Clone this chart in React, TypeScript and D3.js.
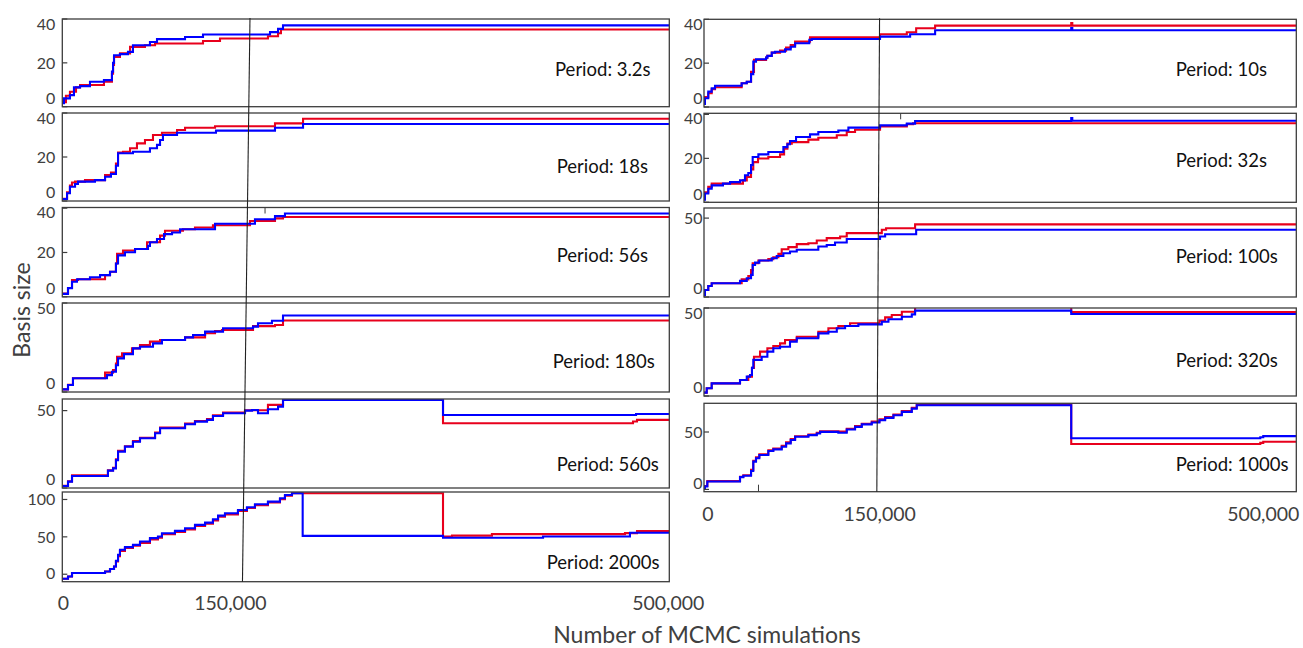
import React from "react";
import * as d3 from "d3";

type Pt = [number, number];

// x values are in thousands of MCMC simulations
const xTicks = [0, 150, 500];

// ---- Left column ----
const blue_3_2s: Pt[] = [[0,1.6],[1.4,3.8],[6.3,5.3],[9.6,8.8],[14.6,9.4],[22.8,11.4],[34.3,12.1],[40.9,16],[41.8,20],[42.6,23.5],[47.5,24],[54.1,25],[58.2,28],[72.2,29.5],[78,30.8],[101.1,31.8],[115.9,32.9],[171.1,34],[177.7,35.5],[181.8,37.1],[500,37.1]];
const red_3_2s: Pt[] = [[0,2],[3,5],[6.3,6.8],[11.3,8.8],[14.6,9.9],[34.3,11.4],[40.9,15],[41.8,19],[42.6,22.7],[47.5,24.3],[55.8,27.3],[68.1,28],[76.4,28.8],[115.9,30],[129.9,31.1],[169.4,32.1],[177.7,33.5],[180.1,35.2],[500,35.2]];

const blue_18s: Pt[] = [[0,0.9],[3.9,3.5],[6.3,6.5],[10.5,7.7],[12.9,8.8],[26.9,9.5],[35.2,11],[40.1,12.3],[44.2,16],[45.9,21.7],[58.2,22.4],[72.2,24],[78,25.5],[80.5,27.7],[82.9,30],[94.5,31],[126.6,32],[175.2,33.3],[198.3,35],[500,35]];
const red_18s: Pt[] = [[0,1],[3.9,4],[6.3,7],[8,8.4],[10.5,8.8],[18.7,9.5],[35.2,11.8],[40.1,12.9],[44.2,17],[45.9,22],[50,22.4],[55.8,24],[61.5,26.2],[68.1,27.7],[74.7,30],[82.1,31],[94.5,32.3],[101.1,33.3],[125.8,34],[175.2,35.3],[198.3,37.4],[500,37.4]];

const blue_56s: Pt[] = [[0,1.3],[4.7,3.9],[8,6.8],[12.1,7.9],[22.8,8.8],[31.1,9.8],[39.3,11.3],[44.2,15],[45.9,18.7],[51.6,20.1],[59.9,21.6],[70.6,23],[72.2,24.6],[78,26.1],[83.8,28.3],[90.4,29],[97,30.5],[125.8,33],[158.7,35],[175.2,36.4],[183.4,37.6],[500,37.6]];
const red_56s: Pt[] = [[0,1.5],[4.7,4],[8,7.6],[12.9,7.9],[35.2,9.8],[39.3,11.3],[44.2,15],[45.1,19.4],[50,20.9],[59.9,21.6],[69.8,24.6],[80.5,27.6],[84.6,29.8],[99.4,30.5],[109.3,31.3],[124.1,32.3],[154.6,34.2],[175.2,35.4],[181.8,36],[500,36]];

const blue_180s: Pt[] = [[0,1.5],[4.7,3.9],[8.8,7.7],[36.8,9.5],[40.9,11.4],[44.2,15],[45.9,18.9],[50.8,21.3],[58.2,24.5],[64,25.4],[74.7,27.3],[82.1,29.2],[101.1,30.7],[107.7,32],[117.6,33.9],[132.4,35.8],[157.1,36.7],[161.2,38.6],[172.7,40],[181.8,43],[500,43]];
const red_180s: Pt[] = [[0,1.5],[4.7,4],[8.8,7.7],[35.2,10.9],[41.8,12.4],[44.2,16],[45.1,19.8],[49.2,21.7],[57.4,24.5],[64,26.4],[72.2,28.3],[80.5,29.2],[101.1,30.7],[117.6,33],[125.8,34.3],[131.5,34.8],[157.1,37],[175.2,37.6],[181.8,40.2],[500,40.2]];

const blue_560s: Pt[] = [[0,1.3],[4.7,4.1],[8,7.8],[37.6,11.2],[41.8,12.7],[44.2,18],[45.9,23.5],[51.6,26.7],[58.2,29.9],[64,32.1],[76.4,35.4],[80.5,38.6],[101.1,41.2],[109.3,42.9],[119.2,44],[124.1,46.5],[132.4,48.3],[150.5,50],[156.3,50.4],[161.2,48.3],[169.4,50.9],[177.7,52.6],[181.8,56.9],[313.6,47.2],[472.6,47.8],[500,47.8]];
const red_560s: Pt[] = [[0,1.5],[4.7,4.3],[8,8.2],[37.6,11.4],[41.8,13],[44.2,18.5],[45.9,24],[51.6,27],[58.2,30.3],[64,32.5],[76.4,35.8],[80.5,39],[101.1,41.6],[109.3,43.3],[119.2,44.5],[124.1,47],[132.4,48.8],[150.5,50.2],[169.4,53.7],[181.8,57.7],[313.6,41.8],[470.1,43],[473.4,44],[500,44]];

const blue_2000s: Pt[] = [[0,-6],[4.7,-3],[8,1.6],[35.2,3.7],[39.3,6.9],[42.6,10.4],[44.2,18],[45.9,26],[47.5,32.7],[51.6,36.3],[58.2,39.3],[64,43.7],[72.2,48.3],[78.8,50.4],[82.1,54.9],[92.8,58],[101.1,61.6],[109.3,66],[117.6,69],[124.1,73.6],[128.3,78.4],[134,81.6],[144.7,86],[152.1,89.6],[158.7,93.6],[169.4,97.1],[179.3,101.6],[183.4,106],[189.2,108.3],[198,51.3],[313.6,48.7],[396,50.4],[467.6,55.5],[500,55.5]];
const red_2000s: Pt[] = [[0,-6],[4.7,-3],[8,1.6],[35.2,3.7],[39.3,6.9],[42.6,10.4],[44.2,17],[45.9,24],[47.5,31],[51.6,35],[58.2,38],[64,42],[72.2,46.5],[78.8,49],[82.1,53.5],[92.8,56.5],[101.1,60],[109.3,64.5],[117.6,67.5],[124.1,72],[128.3,77],[134,80],[144.7,84.5],[152.1,88.5],[158.7,92.5],[169.4,96],[179.3,100.5],[183.4,105],[189.2,108.3],[313.6,50.4],[321,51.7],[353.9,53.6],[463.5,55],[473.4,57.6],[500,57.6]];

// ---- Right column ----
const blue_10s: Pt[] = [[0,1.4],[0.8,4],[3.6,7],[6.5,8.5],[9.3,9.7],[31.8,10.8],[36.1,11.5],[39.7,15],[41.6,20.7],[43.9,21.8],[52.4,22.5],[53.5,23.3],[57.2,24.8],[60,25.2],[68.4,26.3],[73.2,27.5],[76.9,29.1],[88.9,30.6],[91,31],[148.6,32.1],[174,33.2],[195.1,35],[310,36],[310.9,35],[500,35]];
const red_10s: Pt[] = [[0,1.8],[0.8,4.5],[3.6,6.3],[6.5,8.1],[9.3,9],[31.8,10.8],[36.1,11.5],[39.7,16],[42.2,21.5],[52.4,22.5],[53.5,23.3],[57.2,24.8],[64.2,25.7],[69.3,27.1],[73.2,28.3],[76.9,29.8],[89.5,31.8],[148.6,33.2],[171.2,34.1],[179.1,35.9],[195.1,37.1],[310,38.3],[310.9,37.1],[500,37.1]];

const blue_32s: Pt[] = [[0,1.2],[0.8,4],[3.6,6.2],[6.5,7.7],[16,8.5],[22,9.2],[30.4,10],[34.6,12.3],[37.4,13.3],[39.7,17],[41.1,20.6],[45.9,21.8],[54.3,22.9],[67,25.1],[70.4,26.4],[72.6,27.9],[77.7,29.7],[89.5,30.9],[96.5,32],[113.4,32.7],[121.9,34],[148.6,35],[171.2,35.8],[178.2,37],[310,38.3],[310.9,37.1],[500,37.1]];
const red_32s: Pt[] = [[0,1.5],[0.8,4.5],[3.6,7],[6.5,8.5],[32.9,10],[36.1,11.5],[39.7,15],[41.6,18.3],[45.6,19.9],[54.3,20.6],[64.2,21.8],[67.6,24.4],[70.4,26.7],[74.1,27.4],[88.1,28.5],[96.5,29.4],[112.1,30.5],[120.5,32],[127.5,33],[148.6,34.5],[171.2,35.5],[176.5,36],[500,36]];

const blue_100s: Pt[] = [[0,1.3],[0.8,4.4],[3.6,7],[6.5,8.7],[30.4,10.2],[36.1,11.9],[39.7,14],[41.1,20.3],[43.1,21.8],[46.7,23.1],[57.2,24.6],[61.4,26],[67,27.7],[72.6,28.8],[78.3,29.9],[96.5,32],[103.6,33],[110.6,34.5],[120.5,36.8],[148.6,38.3],[152.9,39.8],[179.1,42.6],[500,42.6]];
const red_100s: Pt[] = [[0,1.3],[0.8,4.4],[3.6,7],[6.5,8.7],[31.8,11.2],[37.4,13.3],[39.7,17],[41.1,21.4],[45.9,23.1],[54.3,24],[58.5,25.2],[62.8,27.3],[65.6,30.3],[71.2,31.6],[78.3,33.5],[88.1,34.1],[95.2,35.8],[103.6,37.3],[114.9,38.3],[120.5,40.5],[150.1,42.6],[153.7,43.6],[178.2,46],[500,46]];

const blue_320s: Pt[] = [[0,1.9],[2.3,4.4],[6.5,7.2],[30.4,9.1],[36.1,11],[38.9,11.9],[40.5,16],[41.6,20.5],[48.7,22.3],[53.5,25.2],[58.5,27.1],[64.2,28],[72.6,30.9],[78.3,32.8],[96.5,35.6],[105,36.5],[112.1,38.5],[119.1,39.8],[130.3,40.7],[150.1,42.2],[155.7,43.6],[167,45],[175.4,46.4],[178.2,48.5],[310,46.6],[500,46.6]];
const red_320s: Pt[] = [[0,1.9],[2.3,4.4],[6.5,7.2],[30.4,9.1],[37.4,11],[40.5,16],[42.2,22.3],[47.3,25.2],[53.5,27.1],[58.5,28.4],[64.2,29.9],[68.4,31.8],[78.3,33.7],[96.5,36.5],[105,38.5],[113.4,39.8],[123.3,41.3],[148.1,42.8],[152.9,44.7],[158.5,46],[167,47.9],[178.2,55],[310,47.7],[500,47.7]];

const blue_1000s: Pt[] = [[0,0.3],[0.8,2.6],[2.8,6.9],[30.4,10.7],[33.2,11.9],[39.7,16],[41.6,24.2],[43.9,27.2],[46.7,30],[54.3,33.5],[58.5,34.9],[65.6,37.2],[69.3,40.1],[73.2,43],[76.9,45.8],[88.1,47.3],[95.2,48.7],[98,50.1],[113.4,49.3],[120.5,52.2],[127.5,54.5],[133.2,56.6],[141.6,58.3],[148.1,60.3],[152.9,62.3],[159.9,64.6],[167,67.5],[175.4,70.4],[179.6,73.3],[310,44.5],[469.6,45.4],[472.1,46.4],[500,46.4]];
const red_1000s: Pt[] = [[0,0.5],[0.8,3],[2.8,7.2],[30.4,11],[33.2,12.3],[39.7,17],[41.6,25],[43.9,28],[46.7,30.6],[54.3,34],[58.5,35.5],[65.6,38],[69.3,41],[73.2,43.8],[76.9,46.3],[88.1,47.8],[95.2,49.3],[98,50.6],[113.4,50.3],[120.5,52.8],[127.5,55.2],[133.2,57.2],[141.6,59],[148.1,61],[152.9,63],[159.9,65.3],[167,68.2],[175.4,71],[179.6,74.1],[310,39.5],[469.6,40.5],[472.1,41.5],[500,41.5]];

// Periods, y ranges and y ticks of each panel
const leftPeriods = ["3.2s", "18s", "56s", "180s", "560s", "2000s"];
const rightPeriods = ["10s", "32s", "100s", "320s", "1000s"];
const leftRed = [red_3_2s, red_18s, red_56s, red_180s, red_560s, red_2000s];
const leftBlue = [blue_3_2s, blue_18s, blue_56s, blue_180s, blue_560s, blue_2000s];
const rightRed = [red_10s, red_32s, red_100s, red_320s, red_1000s];
const rightBlue = [blue_10s, blue_32s, blue_100s, blue_320s, blue_1000s];
const leftYDomains: [number, number][] = [[0, 40], [0, 40], [0, 40.3], [0, 50], [0, 57.5], [-10, 110]];
const rightYDomains: [number, number][] = [[0, 40], [0, 40.5], [0, 56.4], [0, 50], [-2, 75]];
const leftYTicks = [[0, 20, 40], [0, 20, 40], [0, 20, 40], [0, 50], [0, 50], [0, 50, 100]];
const rightYTicks = [[0, 20, 40], [0, 20, 40], [0, 50], [0, 50], [0, 50]];

// Short x-axis tick marks on single panel edges: [panel index, x, edge]
const leftEdgeTicks: [number, number, "top" | "bottom"][] = [[2, 167, "top"]];
const rightEdgeTicks: [number, number, "top" | "bottom"][] = [[1, 166, "top"], [4, 46, "bottom"]];

// Reference line drawn across each column near 150,000 (x at top, x at bottom)
const leftCutoff = [154.6, 148.4];
const rightCutoff = [148.2, 145.9];

// ---- Layout ----
const W = 1303;
const H = 648;
const FONT = "Lato, 'Open Sans', sans-serif";
const RED = "#e8001c";
const BLUE = "#0000ff";

const leftCol = {
  x0: 62.3, x1: 669.3, tickGap: 7,
  rows: [[19, 106.7], [113, 201], [207.5, 296.8], [303, 392], [399, 488], [492, 581.7]],
  labelPos: [[555, 76], [556.7, 172.7], [556.7, 262.3], [552.7, 368.3], [556.7, 471], [546.7, 569.3]],
  xLabelNudge: [1, -14, -1],
  xLabelY: 603,
};
const rightCol = {
  x0: 704, x1: 1296.3, tickGap: 1.5,
  rows: [[19.3, 107], [113.3, 202.3], [208, 297], [308, 396], [403.3, 491.7]],
  labelPos: [[1175.7, 76], [1175.7, 166.7], [1175.7, 263.3], [1175.7, 366.7], [1175.7, 470.7]],
  xLabelNudge: [4, -2, -33],
  xLabelY: 514,
};

type ColLayout = typeof leftCol;

function Column({ id, col, periods, reds, blues, domains, ticks, cutoff, edgeTicks }: {
  id: string; col: ColLayout; periods: string[]; reds: Pt[][]; blues: Pt[][];
  domains: [number, number][]; ticks: number[][]; cutoff: number[];
  edgeTicks: [number, number, "top" | "bottom"][];
}) {
  const x = d3.scaleLinear().domain([0, 500]).range([col.x0, col.x1]);
  const fmt = d3.format(",");
  const top = col.rows[0][0];
  const bottom = col.rows[col.rows.length - 1][1];
  return (
    <g>
      {periods.map((p, i) => {
        const [y0, y1] = col.rows[i];
        const y = d3.scaleLinear().domain(domains[i]).range([y1, y0]);
        const line = d3.line<Pt>().x(d => x(d[0])).y(d => y(d[1])).curve(d3.curveStepAfter);
        const clipId = `${id}-clip-${i}`;
        return (
          <g key={p}>
            <defs>
              <clipPath id={clipId}>
                <rect x={col.x0} y={y0} width={col.x1 - col.x0} height={y1 - y0} />
              </clipPath>
            </defs>
            <g clipPath={`url(#${clipId})`}>
              <path d={line(reds[i]) || ""} fill="none" stroke={RED} strokeWidth={2.1} />
              <path d={line(blues[i]) || ""} fill="none" stroke={BLUE} strokeWidth={2.1} />
            </g>
            <rect x={col.x0} y={y0} width={col.x1 - col.x0} height={y1 - y0}
              fill="none" stroke="#3c3c3c" strokeWidth={1.3} />
            {ticks[i].map(t => (
              <g key={t}>
                <line x1={col.x0} x2={col.x0 + 5} y1={y(t)} y2={y(t)} stroke="#3c3c3c" strokeWidth={1.2} />
                <text x={col.x0 - col.tickGap}
                  y={Math.max(y0 + 5, Math.min(y(t), y1 - 8.5))}
                  dy="0.36em" textAnchor="end" fontFamily={FONT} fontSize={16} fill="#404040">
                  {t}
                </text>
              </g>
            ))}
            {edgeTicks.filter(e => e[0] === i).map(([, v, edge]) => (
              <line key={`e${v}`} x1={x(v)} x2={x(v)}
                y1={edge === "top" ? y0 : y1} y2={edge === "top" ? y0 + 6 : y1 - 7}
                stroke="#3c3c3c" strokeWidth={1} />
            ))}
            <text x={col.labelPos[i][0]} y={col.labelPos[i][1]} fontFamily={FONT}
              fontSize={18.5} fill="#111">{`Period: ${p}`}</text>
          </g>
        );
      })}
      <line x1={x(cutoff[0])} y1={top - 1} x2={x(cutoff[1])} y2={bottom}
        stroke="#222" strokeWidth={1.1} />
      {xTicks.map((t, k) => (
        <text key={t} x={x(t) + col.xLabelNudge[k]} y={col.xLabelY} dy="0.36em"
          textAnchor="middle" fontFamily={FONT} fontSize={19.5} fill="#404040">
          {fmt(t * 1000)}
        </text>
      ))}
    </g>
  );
}

export default function App() {
  return (
    <svg width={W} height={H} viewBox={`0 0 ${W} ${H}`}
      style={{ position: "absolute", left: 0, top: 0, background: "#fff" }}>
      <rect width={W} height={H} fill="#fff" />
      <Column id="l" col={leftCol} periods={leftPeriods} reds={leftRed} blues={leftBlue}
        domains={leftYDomains} ticks={leftYTicks} cutoff={leftCutoff} edgeTicks={leftEdgeTicks} />
      <Column id="r" col={rightCol} periods={rightPeriods} reds={rightRed} blues={rightBlue}
        domains={rightYDomains} ticks={rightYTicks} cutoff={rightCutoff} edgeTicks={rightEdgeTicks} />
      <text transform="translate(30,310) rotate(-90)" textAnchor="middle"
        fontFamily={FONT} fontSize={23} fill="#404040">Basis size</text>
      <text x={707} y={643} textAnchor="middle" fontFamily={FONT} fontSize={23} fill="#404040">
        Number of MCMC simulations
      </text>
    </svg>
  );
}
